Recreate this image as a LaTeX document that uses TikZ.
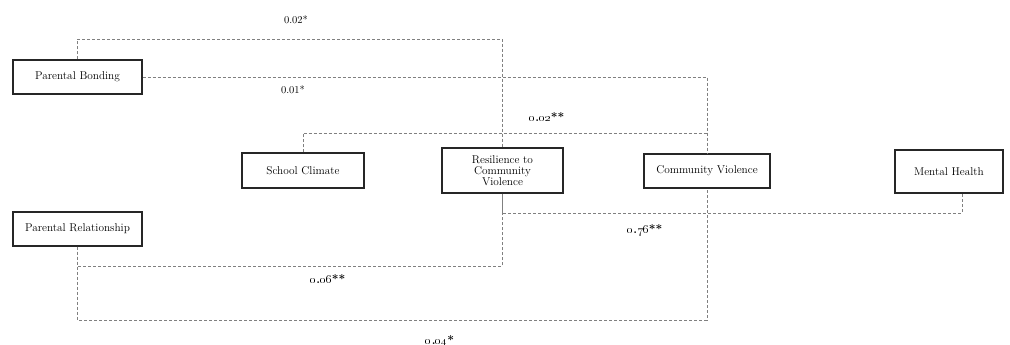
\documentclass[tikz,border=0pt]{standalone}
\begin{document}
\begin{tikzpicture}[x=1pt,y=-1pt,
  box/.style={draw=black!85,line width=1.1pt,fill=white,inner sep=0pt,font=\fontsize{11.3}{12.5}\selectfont,align=center},
  link/.style={draw=black!50,line width=0.8pt,dash pattern=on 3pt off 2pt},
  lab/.style={font=\fontsize{10.5}{12}\selectfont,inner sep=0pt},
  olab/.style={font=\fontsize{12}{13}\selectfont\bfseries,inner sep=0pt}]
\useasboundingbox (0,0) rectangle (1010,345);
% nodes
\node[box,minimum width=129pt,minimum height=34pt] (PB) at (77.5,77) {Parental Bonding};
\node[box,minimum width=129pt,minimum height=34pt] (PR) at (77.5,229) {Parental Relationship};
\node[box,minimum width=122pt,minimum height=35pt] (SC) at (303,170.5) {School Climate};
\node[box,minimum width=121pt,minimum height=45pt] (RES) at (502.5,170.5) {Resilience to\\[-1.5pt]Community\\[-1.5pt]Violence};
\node[box,minimum width=126pt,minimum height=34pt] (CV) at (707,171) {Community Violence};
\node[box,minimum width=108pt,minimum height=43pt] (MH) at (949,171.5) {Mental Health};
% level coordinates
\coordinate (ya) at (0,39);
\coordinate (yb) at (0,133);
\coordinate (yc) at (0,213);
\coordinate (yd) at (0,266);
\coordinate (ye) at (0,320);
\coordinate (mhs) at ([xshift=13pt]MH.south);
% connectors
\draw[link] (PB.north) |- (ya -| RES.north) -- (RES.north);
\draw[link] (PB.east) -| (CV.north);
\draw[link] (SC.north) |- (yb -| CV.north);
\draw[link] (RES.south) |- (yc -| mhs) -- (mhs);
\draw[link] (PR.south) |- (yd -| RES.south) -- (RES.south);
\draw[link] (PR.south) |- (ye -| CV.south) -- (CV.south);
% labels
\node[lab] (l1) at (296,20) {0.02*};
\node[lab] (l2) at (293,90) {0.01*};
\node[olab] (l3) at (547,117) {\oldstylenums{0}.\oldstylenums{02}**};
\node[olab] (l4) at (645,230) {\oldstylenums{0}.\oldstylenums{76}**};
\node[olab] (l5) at (328,279) {\oldstylenums{0}.\oldstylenums{06}**};
\node[olab] (l6) at (440,341) {\oldstylenums{0}.\oldstylenums{04}*};
\end{tikzpicture}
\end{document}
